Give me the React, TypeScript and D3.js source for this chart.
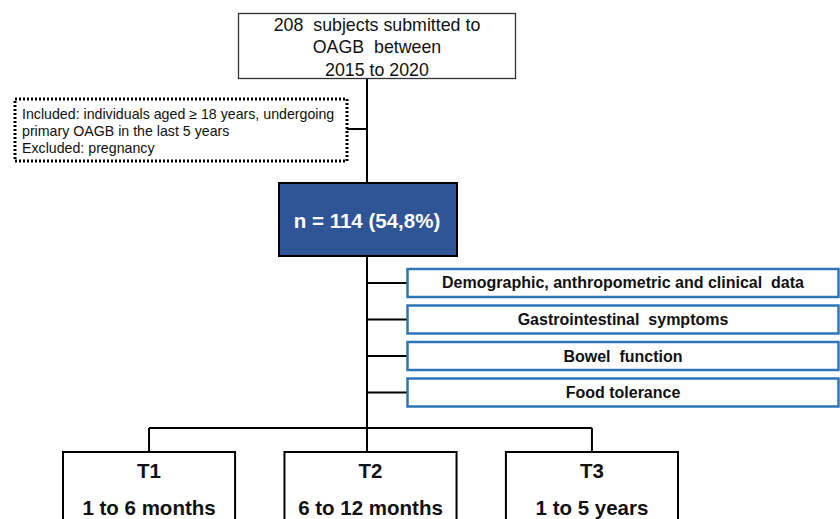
import React from "react";
import * as d3 from "d3";

const sourceLines = ["208  subjects submitted to", "OAGB  between", "2015 to 2020"];
const criteriaLines = [
  "Included: individuals aged ≥ 18 years, undergoing",
  "primary OAGB in the last 5 years",
  "Excluded: pregnancy",
];
const sampleLabel = "n = 114 (54,8%)";
const measures = [
  "Demographic, anthropometric and clinical  data",
  "Gastrointestinal  symptoms",
  "Bowel  function",
  "Food tolerance",
];
const timepoints = ["T1", "T2", "T3"];
const timeRanges = ["1 to 6 months", "6 to 12 months", "1 to 5 years"];

const W = 840;
const H = 519;
const FONT = "'Liberation Sans', Arial, sans-serif";

export default function App() {
  const spineX = 367;
  const yMeasure = d3
    .scaleBand<string>()
    .domain(measures)
    .range([269, 406.5])
    .paddingInner(0.233)
    .paddingOuter(0);
  const xTime = d3
    .scaleBand<string>()
    .domain(timepoints)
    .range([63, 678])
    .paddingInner(0.223)
    .paddingOuter(0);
  const connectorX = (t: string, i: number) =>
    i === 1 ? spineX : (xTime(t) as number) + xTime.bandwidth() / 2;
  const hY = 428;
  const tTop = 452;

  return (
    <svg
      width={W}
      height={H}
      style={{ position: "absolute", left: 0, top: 0, display: "block" }}
      fontFamily={FONT}
    >
      <rect x={0} y={0} width={W} height={H} fill="#ffffff" />

      {/* main spine */}
      <line x1={spineX} y1={79} x2={spineX} y2={183} stroke="#000" strokeWidth={2} />
      <line x1={spineX} y1={256} x2={spineX} y2={hY} stroke="#000" strokeWidth={2} />
      <line x1={347} y1={129} x2={spineX} y2={129} stroke="#000" strokeWidth={2} />

      {/* source box */}
      <rect x={238.5} y={13.5} width={277} height={65} fill="#fff" stroke="#333" strokeWidth={1.3} />
      {sourceLines.map((s, i) => (
        <text
          key={i}
          x={377}
          y={30.5 + i * 22.5}
          textAnchor="middle"
          fontSize={17.8}
          fill="#111"
          style={{ whiteSpace: "pre" }}
        >
          {s}
        </text>
      ))}

      {/* criteria dotted box */}
      <rect
        x={15}
        y={99}
        width={332}
        height={62}
        fill="#fff"
        stroke="#000"
        strokeWidth={3}
        strokeDasharray="2 2"
      />
      {criteriaLines.map((s, i) => (
        <text key={i} x={22} y={118.5 + i * 17} fontSize={14.2} fill="#111">
          {s}
        </text>
      ))}

      {/* sample box */}
      <rect x={279} y={183} width={178} height={73} fill="#2F5597" stroke="#000" strokeWidth={2} />
      <text
        x={367}
        y={227.5}
        textAnchor="middle"
        fontSize={20.5}
        fontWeight="bold"
        fill="#fff"
      >
        {sampleLabel}
      </text>

      {/* measure boxes */}
      {measures.map((m) => {
        const y = yMeasure(m) as number;
        const bh = yMeasure.bandwidth();
        return (
          <g key={m}>
            <line x1={spineX} y1={y + bh / 2} x2={407} y2={y + bh / 2} stroke="#000" strokeWidth={2} />
            <rect
              x={407.5}
              y={y}
              width={431}
              height={bh}
              fill="#fff"
              stroke="#2E75B6"
              strokeWidth={2.5}
            />
            <text
              x={623}
              y={y + bh / 2 + 5.5}
              textAnchor="middle"
              fontSize={16}
              fontWeight="bold"
              fill="#111"
              style={{ whiteSpace: "pre" }}
            >
              {m}
            </text>
          </g>
        );
      })}

      {/* time point branches */}
      <line
        x1={connectorX(timepoints[0], 0)}
        y1={hY}
        x2={connectorX(timepoints[2], 2)}
        y2={hY}
        stroke="#000"
        strokeWidth={2}
      />
      {timepoints.map((t, i) => {
        const x = xTime(t) as number;
        const bw = xTime.bandwidth();
        const cx = connectorX(t, i);
        return (
          <g key={t}>
            <line x1={cx} y1={hY} x2={cx} y2={tTop} stroke="#000" strokeWidth={2} />
            <rect x={x} y={tTop} width={bw} height={H - tTop + 10} fill="#fff" stroke="#000" strokeWidth={2} />
            <text
              x={x + bw / 2}
              y={478}
              textAnchor="middle"
              fontSize={20.5}
              fontWeight="bold"
              fill="#111"
            >
              {t}
            </text>
            <text
              x={x + bw / 2}
              y={515}
              textAnchor="middle"
              fontSize={20.5}
              fontWeight="bold"
              fill="#111"
            >
              {timeRanges[i]}
            </text>
          </g>
        );
      })}
    </svg>
  );
}
